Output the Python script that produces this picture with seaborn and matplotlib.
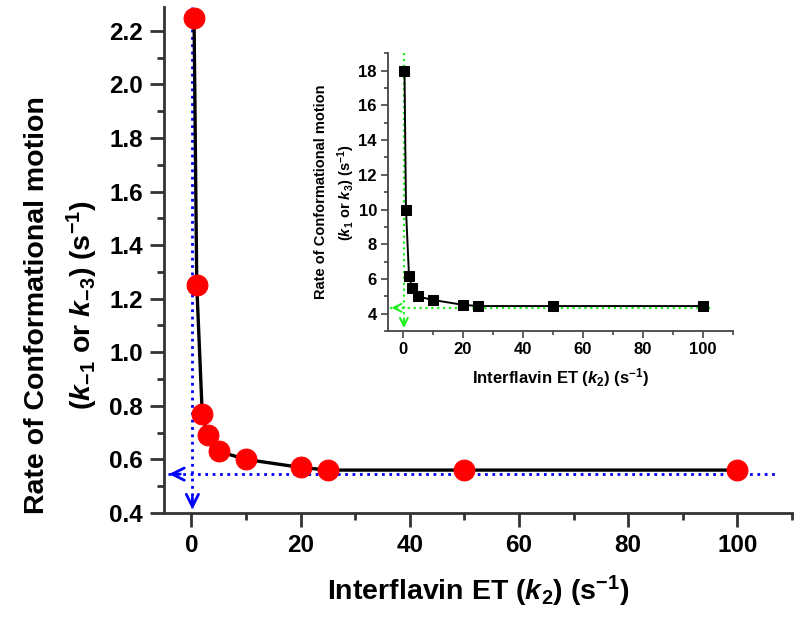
import matplotlib
matplotlib.use("Agg")
import matplotlib.pyplot as plt
from matplotlib.ticker import MultipleLocator
import seaborn as sns

# rate constants
k2 = [0.5, 1, 2, 3, 5, 10, 20, 25, 50, 100]
k_rev = [2.25, 1.25, 0.77, 0.69, 0.63, 0.60, 0.57, 0.56, 0.56, 0.56]   # k-1 / k-3
k_fwd = [18, 10, 6.2, 5.5, 5.0, 4.8, 4.52, 4.45, 4.45, 4.45]           # k1 / k3

# limit guides
main_guide_x = 0.2
main_guide_y = 0.545
inset_guide_x = 0.3
inset_guide_y = 4.35

sns.set_theme(style="ticks")
plt.rcParams["font.family"] = ["Liberation Sans", "DejaVu Sans"]
plt.rcParams["font.weight"] = "bold"
plt.rcParams["text.color"] = "black"
plt.rcParams["axes.labelcolor"] = "black"
plt.rcParams["xtick.labelcolor"] = "black"
plt.rcParams["ytick.labelcolor"] = "black"
plt.rcParams["mathtext.fontset"] = "custom"
plt.rcParams["mathtext.rm"] = "Liberation Sans:bold"
plt.rcParams["mathtext.bf"] = "Liberation Sans:bold"
plt.rcParams["mathtext.it"] = "Liberation Sans:bold:italic"
plt.rcParams["mathtext.bfit"] = "Liberation Sans:bold:italic"
plt.rcParams["mathtext.default"] = "bf"

fig = plt.figure(figsize=(8, 6.18), dpi=100)
ax = fig.add_axes([0.205, 0.170, 0.785, 0.819])
ins = fig.add_axes([0.485, 0.464, 0.431, 0.450])

blue = "#0000ff"
green = "#22ee22"

# --- main panel ---
ax.plot([main_guide_x, main_guide_x], [2.29, 0.42], ls=":", color=blue, lw=2, zorder=1)
ax.plot([-4.2, 107], [main_guide_y, main_guide_y], ls=":", color=blue, lw=2, zorder=1)
ax.annotate("", xy=(main_guide_x, 0.402), xytext=(main_guide_x, 0.47),
            arrowprops=dict(arrowstyle="->", color=blue, lw=2, mutation_scale=22))
ax.annotate("", xy=(-4.6, main_guide_y), xytext=(-1.5, main_guide_y),
            arrowprops=dict(arrowstyle="->", color=blue, lw=2, mutation_scale=22))
sns.lineplot(x=k2, y=k_rev, ax=ax, color="black", lw=2.4, marker="o", markersize=15,
             markerfacecolor="red", markeredgecolor="red", sort=False, zorder=3)

ax.set_xlim(-5, 110)
ax.set_ylim(0.4, 2.29)
ax.xaxis.set_major_locator(MultipleLocator(20))
ax.xaxis.set_minor_locator(MultipleLocator(10))
ax.yaxis.set_major_locator(MultipleLocator(0.2))
ax.yaxis.set_minor_locator(MultipleLocator(0.1))
ax.set_xticks([0, 20, 40, 60, 80, 100])
ax.tick_params(which="major", length=10, width=2, labelsize=17.5, color="#333333", pad=5)
ax.tick_params(which="minor", length=5, width=2, color="#333333")
for s in ["left", "bottom"]:
    ax.spines[s].set_linewidth(2)
    ax.spines[s].set_color("#333333")
sns.despine(ax=ax)
ax.set_xlabel(r"Interflavin ET ($\mathbfit{k}_{2}$) (s$^{-1}$)", fontsize=20.5, fontweight="bold", labelpad=12)
ax.set_ylabel("Rate of Conformational motion\n" + r"($\mathbfit{k}_{-1}$ or $\mathbfit{k}_{-3}$) (s$^{-1}$)",
              fontsize=20.5, fontweight="bold", linespacing=1.55)
ax.yaxis.set_label_coords(-0.102, 0.41)

# --- inset panel ---
ins.plot([inset_guide_x, inset_guide_x], [19, 3.15], ls=":", color=green, lw=1.6, zorder=1)
ins.plot([-4.2, 103], [inset_guide_y, inset_guide_y], ls=":", color=green, lw=1.6, zorder=1)
ins.annotate("", xy=(inset_guide_x, 3.02), xytext=(inset_guide_x, 3.9),
             arrowprops=dict(arrowstyle="->", color=green, lw=1.5, mutation_scale=14))
ins.annotate("", xy=(-4.8, inset_guide_y), xytext=(-1, inset_guide_y),
             arrowprops=dict(arrowstyle="->", color=green, lw=1.5, mutation_scale=14))
sns.lineplot(x=k2, y=k_fwd, ax=ins, color="black", lw=1.4, marker="s", markersize=7.5,
             markerfacecolor="black", markeredgecolor="black", sort=False, zorder=3)

ins.set_xlim(-5, 110)
ins.set_ylim(3, 19)
ins.xaxis.set_major_locator(MultipleLocator(20))
ins.xaxis.set_minor_locator(MultipleLocator(10))
ins.yaxis.set_major_locator(MultipleLocator(2))
ins.yaxis.set_minor_locator(MultipleLocator(1))
ins.set_xticks([0, 20, 40, 60, 80, 100])
ins.set_yticks([4, 6, 8, 10, 12, 14, 16, 18])
ins.tick_params(which="major", length=5, width=1.2, labelsize=12, color="#444444", pad=3)
ins.tick_params(which="minor", length=3, width=1.2, color="#444444")
for s in ["left", "bottom"]:
    ins.spines[s].set_linewidth(1.3)
    ins.spines[s].set_color("#444444")
sns.despine(ax=ins)
ins.set_xlabel(r"Interflavin ET ($\mathbfit{k}_{2}$) (s$^{-1}$)", fontsize=12, fontweight="bold", labelpad=6)
ins.set_ylabel("Rate of Conformational motion\n" + r"($\mathbfit{k}_{1}$ or $\mathbfit{k}_{3}$) (s$^{-1}$)",
               fontsize=10.5, fontweight="bold", labelpad=1, linespacing=1.5)

fig.savefig("out.png", dpi=100)
